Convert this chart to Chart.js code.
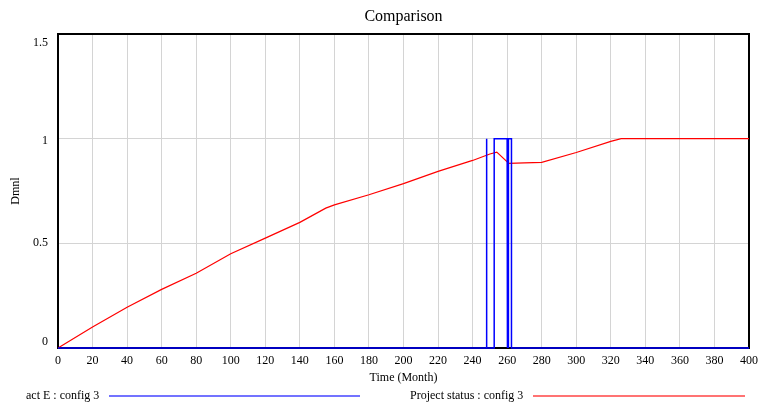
<!DOCTYPE html>
<html>
<head>
<meta charset="utf-8">
<script src="https://cdn.jsdelivr.net/npm/chart.js@4"></script>
<style>
  html, body { margin: 0; padding: 0; background: #fff; }
  #wrap { width: 759px; height: 405px; }
</style>
</head>
<body>
<div id="wrap"><canvas id="chart" width="759" height="405"></canvas></div>
<script>
// values
const statusTime = [0, 20, 40, 60, 80, 100, 120, 140, 155, 160, 180, 200, 220, 240, 250, 254, 261, 270, 280, 300, 320, 326, 340, 360, 380, 400];
const projectStatus = [0, 0.10, 0.195, 0.28, 0.357, 0.45, 0.525, 0.60, 0.668, 0.684, 0.732, 0.785, 0.844, 0.896, 0.927, 0.936, 0.882, 0.884, 0.887, 0.934, 0.987, 1, 1, 1, 1, 1];

const actTime = [0, 248, 248, 248.2, 248.2, 252.5, 252.5, 260, 260, 260.25, 260.25, 260.6, 260.6, 260.8, 260.8, 262.5, 262.5, 400];
const actE = [0, 0, 1, 1, 0, 0, 1, 1, 0, 0, 0.5, 0.5, 0, 0, 1, 1, 0, 0];

const xTicks = [0, 20, 40, 60, 80, 100, 120, 140, 160, 180, 200, 220, 240, 260, 280, 300, 320, 340, 360, 380, 400];
const yTicks = [0, 0.5, 1, 1.5];

const seriesNames = ["act E : config 3", "Project status : config 3"];
const seriesColors = ["#0000ff", "#ff0000"];

const SERIF = "'Liberation Serif', 'Times New Roman', serif";

// the original nudges the end labels of the y axis inwards
const yLabelShift = [-6, 0, 2, 9];

function toPoints(xs, ys) {
    return xs.map((x, i) => ({ x: x, y: ys[i] }));
}

// frame, title and the bottom legend (text followed by a line)
const extras = {
    id: "extras",
    beforeDraw(chart) {
        const y = chart.scales.y;
        y.getLabelItems(chart.chartArea).forEach((it, i) => {
            if (!it._shifted) {
                it.options.translation[1] += yLabelShift[i] || 0;
                it._shifted = true;
            }
        });
    },
    beforeDatasetsDraw(chart) {
        const ctx = chart.ctx;
        const a = chart.chartArea;
        ctx.save();
        ctx.strokeStyle = "#000";
        ctx.lineWidth = 2;
        ctx.strokeRect(a.left, a.top, a.right - a.left, a.bottom - a.top);
        ctx.restore();
    },
    afterDraw(chart) {
        const ctx = chart.ctx;
        const a = chart.chartArea;
        ctx.save();
        ctx.fillStyle = "#000";
        ctx.font = "16px " + SERIF;
        ctx.textAlign = "center";
        ctx.textBaseline = "middle";
        ctx.fillText("Comparison", (a.left + a.right) / 2, 17);

        // legend
        ctx.font = "12px " + SERIF;
        ctx.textAlign = "left";
        const y = 396;
        const items = [
            { tx: 26, lx0: 109, lx1: 360 },
            { tx: 410, lx0: 533, lx1: 745 }
        ];
        items.forEach((it, i) => {
            ctx.fillStyle = "#000";
            ctx.fillText(seriesNames[i], it.tx, y);
            ctx.strokeStyle = seriesColors[i];
            ctx.globalAlpha = 0.55;
            ctx.lineWidth = 2;
            ctx.beginPath();
            ctx.moveTo(it.lx0, y);
            ctx.lineTo(it.lx1, y);
            ctx.stroke();
            ctx.globalAlpha = 1;
        });
        ctx.restore();
    }
};

new Chart(document.getElementById("chart"), {
    type: "line",
    data: {
        datasets: [
            {
                label: seriesNames[0],
                data: toPoints(actTime, actE),
                borderColor: seriesColors[0],
                borderWidth: 1.5,
                pointRadius: 0,
                tension: 0,
                clip: 3
            },
            {
                label: seriesNames[1],
                data: toPoints(statusTime, projectStatus),
                borderColor: seriesColors[1],
                borderWidth: 1.2,
                pointRadius: 0,
                tension: 0,
                clip: 3
            }
        ]
    },
    options: {
        responsive: false,
        animation: false,
        parsing: false,
        layout: { padding: { top: 34, right: 0, left: 0, bottom: 0 } },
        plugins: {
            legend: { display: false },
            title: { display: false },
            tooltip: { enabled: false }
        },
        scales: {
            x: {
                type: "linear",
                min: 0,
                max: 400,
                afterBuildTicks(scale) {
                    scale.ticks = xTicks.map(v => ({ value: v }));
                },
                afterFit(scale) {
                    scale.height = 57;
                    scale.paddingLeft = 0;
                    scale.paddingRight = 10;
                },
                grid: { color: "#d4d4d4", lineWidth: 1, drawTicks: false },
                border: { display: false },
                ticks: {
                    color: "#000",
                    font: { family: SERIF, size: 12 },
                    padding: 6,
                    maxRotation: 0,
                    autoSkip: false
                },
                title: {
                    display: true,
                    text: "Time (Month)",
                    color: "#000",
                    font: { family: SERIF, size: 12 },
                    padding: { top: 0, bottom: 20 }
                }
            },
            y: {
                type: "linear",
                min: 0,
                max: 1.5,
                afterBuildTicks(scale) {
                    scale.ticks = yTicks.map(v => ({ value: v }));
                },
                afterFit(scale) {
                    scale.width = 58;
                },
                grid: { color: "#d4d4d4", lineWidth: 1, drawTicks: false },
                border: { display: false },
                ticks: {
                    color: "#000",
                    font: { family: SERIF, size: 12 },
                    padding: 10,
                    callback: v => String(v)
                },
                title: {
                    display: true,
                    text: "Dmnl",
                    color: "#000",
                    font: { family: SERIF, size: 12 },
                    padding: { top: 9, bottom: 0 }
                }
            }
        }
    },
    plugins: [extras]
});
</script>
</body>
</html>
